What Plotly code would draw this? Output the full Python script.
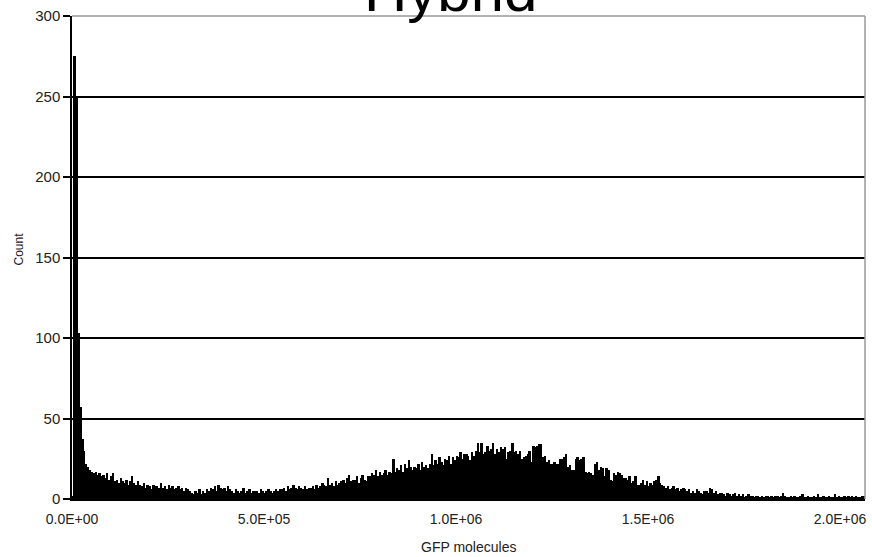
import plotly.graph_objects as go

# Histogram of GFP molecules per cell, bins of 5,000 molecules starting at 0
bin_start = 0
bin_width = 5000
x_max = 2065000
counts = [
    2, 275, 250, 103, 57, 37, 30, 22, 20,
    18, 17, 16, 17, 15, 16,
    14, 15, 13, 16, 12, 14, 16,
    11, 12, 10, 13, 11, 10, 12, 9, 11, 14, 10, 9, 11,
    9, 8, 10, 7, 9, 8, 6, 9, 8, 8, 7, 10, 7, 8, 6, 9, 7, 8, 6,
    7, 8, 6, 7, 5, 7, 6, 5,
    4, 3, 5, 4, 6, 3, 5, 4, 6, 5,
    7, 6, 8, 5, 9, 7, 6, 7, 5, 8, 6,
    5, 4, 6, 5, 4, 5, 7, 4, 5, 6, 4, 5, 5, 5, 4, 6, 5, 4, 5, 6, 5, 4, 5, 6, 5, 6,
    6, 7, 5, 8, 6, 7, 9, 7, 6, 8,
    7, 6, 8, 6, 7, 7, 8, 6, 9, 7,
    8, 10, 9, 8, 13, 9, 10, 8, 11, 9, 10,
    11, 12, 10, 13, 15, 11, 12, 12, 14, 10, 13, 15, 12, 11, 14,
    14, 16, 15, 18, 14, 17, 15, 16, 18, 15, 17, 16, 25,
    17, 19, 18, 21, 17, 22, 19, 24, 20, 18, 20, 19, 22, 18, 23, 20, 21, 19,
    22, 28, 21, 24, 22, 26, 23, 21, 25, 24, 27, 22, 26, 24, 27,
    26, 29, 25, 28, 28, 27, 24, 29, 27,
    30, 35, 29, 35, 28, 29, 33, 30, 31, 35, 28, 31, 29, 32, 31, 32, 25, 29, 30, 35, 29,
    30, 28, 30, 25, 26, 27, 28, 30, 23, 33, 32, 33, 34, 34, 26, 27, 23, 24, 22, 22, 23,
    22, 22, 25,
    25, 26, 28, 20, 21, 18, 18, 25, 26, 24, 25, 26, 17, 16, 17, 16, 15, 22, 23, 18, 20,
    19, 14, 19, 18, 12, 11, 16, 15, 17, 16, 15, 13, 13, 12, 14, 10, 11, 14, 9, 9,
    10, 12, 9, 11, 8, 10, 9, 11, 12, 14, 10,
    9, 8, 7, 8, 6, 7, 8, 6, 7, 5, 6, 7, 6,
    5, 6, 4, 5, 4, 6, 5, 4, 3, 5, 5, 4, 7, 6, 4, 5, 3, 4,
    4, 3, 2, 4, 3, 2, 3, 4, 2, 3, 2, 3, 1, 2, 3, 2,
    2, 1, 2, 2, 1, 2, 1, 2, 2, 1, 2, 1, 2, 2, 1, 2, 4,
    2, 1, 1, 2, 1, 2, 1, 1, 2, 3, 1, 1, 2, 1, 1, 2, 1, 3, 1, 1,
    2, 1, 1, 2, 1, 1, 3, 1, 2, 1, 1, 2, 1, 2, 1, 2, 1, 2, 1, 1, 2, 2,
]

x_tick_values = [0, 500000, 1000000, 1500000, 2000000]
x_tick_labels = ["0.0E+00", "5.0E+05", "1.0E+06", "1.5E+06", "2.0E+06"]
y_tick_values = [0, 50, 100, 150, 200, 250, 300]

title_text = "Hybrid"
x_title = "GFP molecules"
y_title = "Count"

centers = [bin_start + (i + 0.5) * bin_width for i in range(len(counts))]

FONT = "Liberation Sans, Arial, sans-serif"
TEXT = "#222222"

fig = go.Figure(
    go.Bar(
        x=centers,
        y=counts,
        width=bin_width,
        marker=dict(color="black", line=dict(width=0)),
        hoverinfo="x+y",
    )
)

fig.update_layout(
    width=872,
    height=557,
    margin=dict(l=72, r=7, t=16, b=58, autoexpand=False),
    paper_bgcolor="white",
    plot_bgcolor="white",
    bargap=0,
    showlegend=False,
    font=dict(family=FONT, color=TEXT, size=15),
)

fig.update_xaxes(
    range=[0, x_max],
    tickvals=x_tick_values,
    ticktext=x_tick_labels,
    ticks="",
    automargin=False,
    ticklabeloverflow="allow",
    ticklabelstandoff=6,
    showgrid=False,
    zeroline=False,
    showline=True,
    linecolor="black",
    linewidth=2,
    tickfont=dict(family=FONT, size=14, color=TEXT),
)

fig.update_yaxes(
    range=[0, 300],
    tickvals=y_tick_values,
    ticks="outside",
    ticklen=7,
    tickwidth=1.5,
    tickcolor="black",
    automargin=False,
    showgrid=True,
    gridcolor="black",
    gridwidth=1.5,
    zeroline=False,
    showline=True,
    linecolor="black",
    linewidth=1.5,
    tickfont=dict(family=FONT, size=15, color=TEXT),
)

# light frame on the top and right edges of the plotting area
fig.add_shape(type="line", xref="paper", yref="paper", x0=0, x1=1, y0=1, y1=1,
              line=dict(color="#999999", width=1.5), layer="above")
fig.add_shape(type="line", xref="paper", yref="paper", x0=1, x1=1, y0=0, y1=1,
              line=dict(color="#999999", width=1.5), layer="above")

fig.add_annotation(text=title_text, xref="paper", yref="paper", x=0.477, y=1.052,
                   xanchor="center", yanchor="middle", showarrow=False,
                   font=dict(family=FONT, size=60, color="black"))
fig.add_annotation(text=x_title, xref="paper", yref="paper", x=0.5, y=0,
                   yshift=-48, xanchor="center", yanchor="middle", showarrow=False,
                   font=dict(family=FONT, size=14, color=TEXT))
fig.add_annotation(text=y_title, xref="paper", yref="paper", x=0, y=0.5,
                   xshift=-54, yshift=8, textangle=-90, xanchor="center",
                   yanchor="middle", showarrow=False,
                   font=dict(family=FONT, size=12, color=TEXT))

fig.write_html("out.html")
